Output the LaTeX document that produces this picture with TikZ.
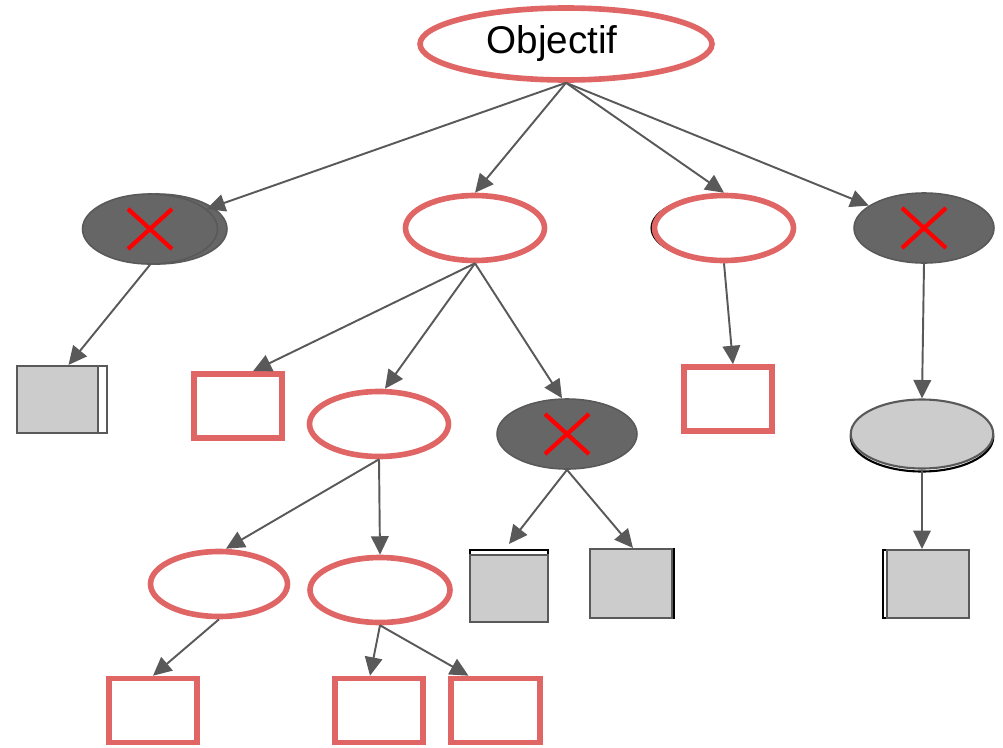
\documentclass[tikz,border=0pt]{standalone}
\usepackage{fontspec}
\setmainfont{Liberation Sans}
\usetikzlibrary{shapes.geometric,arrows.meta}
\definecolor{goalred}{HTML}{E06666}
\definecolor{edgegray}{HTML}{595959}
\definecolor{darkfill}{HTML}{666666}
\definecolor{lightfill}{HTML}{CCCCCC}
\begin{document}
\begin{tikzpicture}[x=0.02cm, y=-0.02cm, line width=0.9pt,
  goal/.style={ellipse, draw=goalred, line width=3.2pt, fill=white, inner sep=0pt,
    minimum width=2.78cm, minimum height=1.3cm},
  leaf/.style={rectangle, draw=goalred, line width=3.2pt, fill=white, inner sep=0pt,
    minimum width=1.76cm, minimum height=1.28cm},
  dropped/.style={ellipse, draw=edgegray, line width=0.9pt, fill=darkfill, inner sep=0pt,
    minimum width=2.8cm, minimum height=1.4cm},
  kept/.style={rectangle, draw=edgegray, line width=1.2pt, fill=lightfill, inner sep=0pt},
  ghost/.style={draw=black, line width=1.2pt, fill=white, inner sep=0pt},
  link/.style={draw=edgegray, line width=1.1pt, -{Triangle[length=10.5pt,width=10pt]}},
  cross/.style={draw=red, line width=2.4pt}]
  \useasboundingbox (0,0) rectangle (1003,747);

  % top goal
  \node[goal, minimum width=5.84cm, minimum height=1.44cm, font=\fontsize{22}{24}\selectfont]
    (obj) at (566,44) {\raisebox{-0.06cm}{Objectif}\hspace*{0.56cm}};

  % first level
  \node[dropped] (n1g) at (157,229) {};
  \node[dropped, minimum width=2.7cm] (n1) at (150,229) {};
  \node[ghost, ellipse, minimum width=2.78cm, minimum height=1.3cm] (n3g) at (721,228) {};
  \node[goal] (n2) at (475,228) {};
  \node[goal] (n3) at (724,228) {};
  \node[dropped] (n4) at (924,228) {};

  % second level
  \node[kept, draw=edgegray, fill=white, minimum width=1.8cm, minimum height=1.34cm] (n1ag) at (62,399.5) {};
  \node[kept, minimum width=1.62cm, minimum height=1.34cm] (n1a) at (57.5,399.5) {};
  \node[leaf] (n2a) at (238,406) {};
  \node[goal] (n2b) at (379,424) {};
  \node[dropped] (n2c) at (567,434) {};
  \node[leaf] (n3a) at (728,399) {};
  \node[ghost, ellipse, minimum width=2.85cm, minimum height=1.38cm] (n4ag) at (922,437) {};
  \node[kept, ellipse, draw=edgegray, minimum width=2.85cm, minimum height=1.38cm] (n4a) at (922,434) {};

  % third level
  \node[goal, minimum width=2.74cm] (n2ba) at (219,584) {};
  \node[goal, minimum width=2.8cm] (n2bb) at (380,590) {};
  \node[ghost, minimum width=1.56cm, minimum height=1.44cm] (n2cag) at (509,586) {};
  \node[kept, minimum width=1.56cm, minimum height=1.34cm] (n2ca) at (509,588.5) {};
  \node[ghost, minimum width=1.68cm, minimum height=1.38cm] (n2cbg) at (632,583.5) {};
  \node[kept, minimum width=1.64cm, minimum height=1.38cm] (n2cb) at (631,583.5) {};
  \node[ghost, minimum width=1.72cm, minimum height=1.36cm] (n4bg) at (926,584) {};
  \node[kept, minimum width=1.64cm, minimum height=1.36cm] (n4b) at (928,584) {};

  % fourth level
  \node[leaf] (n2baa) at (153,710.5) {};
  \node[leaf] (n2bba) at (379,710.5) {};
  \node[leaf, minimum width=1.78cm] (n2bbb) at (495.5,710.5) {};

  % crosses on dropped goals
  \foreach \n in {n1,n4,n2c}
    \draw[cross] ([shift={(-22,-20)}]\n.center) -- ([shift={(22,20)}]\n.center)
                 ([shift={(-22,20)}]\n.center) -- ([shift={(22,-20)}]\n.center);

  % links
  \draw[link] (obj.south) -- (n1);
  \draw[link] (obj.south) -- (n2.north);
  \draw[link] (obj.south) -- (n3.north);
  \draw[link] (obj.south) -- (n4);
  \draw[link] (n1.south) -- ([xshift=0.22cm]n1a.north);
  \draw[link] (n2.south) -- ([xshift=0.3cm]n2a.north);
  \draw[link] (n2.south) -- ([xshift=0.12cm]n2b.north);
  \draw[link] (n2.south) -- ([xshift=-0.1cm]n2c.north);
  \draw[link] (n3.south) -- ([xshift=0.1cm]n3a.north);
  \draw[link] (n4.south) -- (n4a.north);
  \draw[link] (n2b.south) -- ([xshift=0.14cm]n2ba.north);
  \draw[link] (n2b.south) -- (n2bb.north);
  \draw[link] (n2c.south) -- ([yshift=0.1cm]n2cag.north);
  \draw[link] (n2c.south) -- ([xshift=0.04cm]n2cb.north);
  \draw[link] (n4a.south) -- ([xshift=-0.12cm]n4b.north);
  \draw[link] (n2ba.south) -- (n2baa.north);
  \draw[link] (n2bb.south) -- ([xshift=-0.18cm]n2bba.north);
  \draw[link] (n2bb.south) -- ([xshift=-0.54cm]n2bbb.north);
\end{tikzpicture}
\end{document}
